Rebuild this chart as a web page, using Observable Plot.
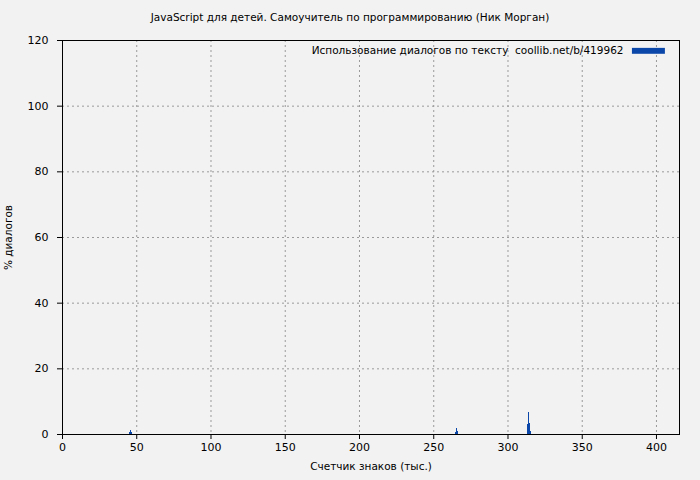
<!DOCTYPE html>
<html>
<head>
<meta charset="utf-8">
<script src="https://cdn.jsdelivr.net/npm/d3@7"></script>
<script src="https://cdn.jsdelivr.net/npm/@observablehq/plot@0.6"></script>
<style>
  html, body { margin: 0; padding: 0; background: #f2f2f2; }
  #wrap { position: relative; width: 700px; height: 480px; font-family: "DejaVu Sans", sans-serif; }
  #title { position: absolute; left: 0; top: 11px; width: 700px; text-align: center; font-size: 10.5px; color: #000; }
</style>
</head>
<body>
<div id="wrap">
  <div id="title">JavaScript для детей. Самоучитель по программированию (Ник Морган)</div>
</div>
<script>
// Data (thousands of characters, % dialogue)
const charsK = [45.1, 45.8, 46.5, 264.9, 265.6, 266.3, 313.1, 313.8, 314.5, 315.2];
const dialogPct = [0.5, 1.2, 0.6, 0.7, 1.8, 0.8, 3.0, 6.6, 3.5, 1.0];
const binWidth = 0.7;
const xTicks = [0, 50, 100, 150, 200, 250, 300, 350, 400];
const yTicks = [0, 20, 40, 60, 80, 100, 120];
const seriesLabel = "Использование диалогов по тексту  coollib.net/b/419962";
const xLabel = "Счетчик знаков (тыс.)";
const yLabel = "% диалогов";
const barColor = "#0b47a8";
// legend swatch extent in data units (x: thousands chars, y: %)
const swatchX = [383.8, 406.0];
const swatchY = [115.8, 117.6];

const data = charsK.map((x, i) => ({x, y: dialogPct[i]}));

const chart = Plot.plot({
  width: 700,
  height: 480,
  marginLeft: 62,
  marginRight: 21,
  marginTop: 40,
  marginBottom: 46,
  style: {background: "transparent", fontFamily: "DejaVu Sans, sans-serif", fontSize: "11px", color: "#000"},
  x: {domain: [0, 415.5], ticks: xTicks},
  y: {domain: [0, 120], ticks: yTicks},
  marks: [
    Plot.ruleX(xTicks.filter(t => t > 0), {stroke: "#9a9a9a", strokeDasharray: "2,3", strokeWidth: 1}),
    Plot.ruleY(yTicks.filter(t => t > 0 && t < 120), {stroke: "#9a9a9a", strokeDasharray: "2,3", strokeWidth: 1}),
    Plot.rectY(data, {x1: "x", x2: d => d.x + binWidth, y: "y", fill: barColor, shapeRendering: "crispEdges"}),
    Plot.frame({stroke: "#000", strokeWidth: 1}),
    Plot.axisX({ticks: xTicks, tickSize: 5, tickPadding: 4, label: null, fontSize: 11}),
    Plot.axisY({ticks: yTicks, tickSize: 5, tickPadding: 9, label: null, fontSize: 11}),
    Plot.text([xLabel], {frameAnchor: "bottom", dy: 35, fontSize: 10.5}),
    Plot.text([yLabel], {frameAnchor: "left", dx: -54, rotate: -90, textAnchor: "middle", fontSize: 10.5}),
    Plot.text([seriesLabel], {frameAnchor: "top-right", dx: -56, dy: 10, textAnchor: "end", fontSize: 10.5, lineAnchor: "middle"}),
    Plot.rect([seriesLabel], {x1: () => swatchX[0], x2: () => swatchX[1], y1: () => swatchY[0], y2: () => swatchY[1], fill: barColor})
  ]
});
document.getElementById("wrap").appendChild(chart);
</script>
</body>
</html>
